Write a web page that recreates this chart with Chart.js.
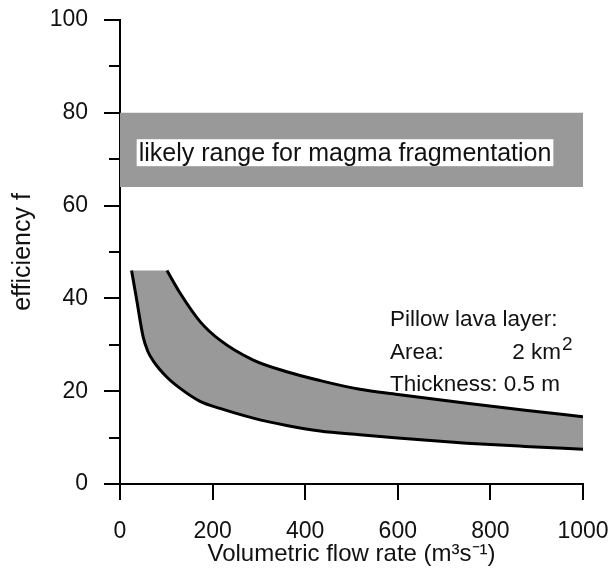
<!DOCTYPE html>
<html>
<head>
<meta charset="utf-8">
<script src="https://cdn.jsdelivr.net/npm/chart.js@4/dist/chart.umd.min.js"></script>
<style>
  html, body { margin: 0; padding: 0; background: #fff; }
  #wrap { width: 613px; height: 570px; position: relative; }
</style>
</head>
<body>
<div id="wrap"><canvas id="c"></canvas></div>
<script>
// ---- data ----
const xTickValues = [0, 200, 400, 600, 800, 1000];
const yTickValues = [0, 20, 40, 60, 80, 100];

// likely range for magma fragmentation (efficiency band)
const bandQ = [0, 1000];
const bandTop = [80, 80];
const bandBottom = 64;

// lower curve of the efficiency envelope
const lowerQ = [25, 36, 50, 60, 72, 101.5, 130, 173, 216, 288, 360, 432, 518, 600, 749, 875, 1000];
const lowerF = [46, 39.7, 31.7, 28.6, 26.5, 23.0, 20.6, 17.8, 16.3, 14.2, 12.6, 11.4, 10.6, 9.9, 8.8, 8.1, 7.5];

// flat top of the envelope (no outline)
const topQ = [25, 101.5];
const topF = [46, 46];

// upper curve of the efficiency envelope
const upperQ = [101.5, 130, 173, 216, 288, 360, 432, 518, 600, 749, 875, 1000];
const upperF = [46, 41.1, 35.0, 31.0, 26.7, 24.2, 22.3, 20.4, 19.3, 17.4, 15.9, 14.5];

const bandLabel = 'likely range for magma fragmentation';
const noteLines = ['Pillow lava layer:', 'Area:', 'Thickness: 0.5 m'];
const areaValue = '2 km';
const areaSup = '2';

const xTitle = 'Volumetric flow rate (m\u00B3s\u207B\u00B9)';
const yTitle = 'efficiency f';

// ---- build ----
const pts = (xs, ys) => xs.map((x, i) => ({x: x, y: ys[i]}));
const FONT = '"Liberation Sans", Arial, sans-serif';
const GRAY = '#999999';

const tickPlugin = {
  id: 'customTicks',
  afterDraw(chart) {
    const ctx = chart.ctx;
    const xs = chart.scales.x, ys = chart.scales.y;
    ctx.save();
    ctx.strokeStyle = '#000';
    ctx.lineWidth = 2;
    ctx.lineCap = 'butt';
    xs.ticks.forEach(t => {
      const px = Math.round(xs.getPixelForValue(t.value));
      const len = xTickValues.includes(t.value) ? 16 : 11;
      ctx.beginPath();
      ctx.moveTo(px, xs.top);
      ctx.lineTo(px, xs.top + len);
      ctx.stroke();
    });
    ys.ticks.forEach(t => {
      const py = Math.round(ys.getPixelForValue(t.value));
      const len = yTickValues.includes(t.value) ? 16 : 11;
      ctx.beginPath();
      ctx.moveTo(ys.right, py);
      ctx.lineTo(ys.right - len, py);
      ctx.stroke();
    });
    ctx.restore();
  }
};

const textPlugin = {
  id: 'notes',
  afterDatasetsDraw(chart) {
    const ctx = chart.ctx;
    const xs = chart.scales.x, ys = chart.scales.y;
    ctx.save();
    // band label in white box
    ctx.font = '25px ' + FONT;
    const w = ctx.measureText(bandLabel).width;
    const cx = xs.getPixelForValue(486);
    const cy = ys.getPixelForValue(71.4);
    ctx.fillStyle = '#fff';
    ctx.fillRect(cx - w / 2 - 2, cy - 13.5, w + 4, 27);
    ctx.fillStyle = '#111';
    ctx.textAlign = 'center';
    ctx.textBaseline = 'middle';
    ctx.fillText(bandLabel, cx, cy + 1);

    // pillow lava notes
    ctx.font = '22.5px ' + FONT;
    ctx.textAlign = 'left';
    ctx.textBaseline = 'alphabetic';
    const lx = xs.getPixelForValue(583);
    ctx.fillText(noteLines[0], lx, ys.getPixelForValue(34.05));
    ctx.fillText(noteLines[1], lx, ys.getPixelForValue(26.9));
    ctx.fillText(noteLines[2], lx, ys.getPixelForValue(20.0));
    const ax = xs.getPixelForValue(847);
    ctx.fillText(areaValue, ax, ys.getPixelForValue(26.9));
    const aw = ctx.measureText(areaValue).width;
    ctx.font = '19px ' + FONT;
    ctx.fillText(areaSup, ax + aw + 1, ys.getPixelForValue(26.9) - 9);
    ctx.restore();
  }
};

const zeroPad = s => { s.paddingLeft = 0; s.paddingRight = 0; s.paddingTop = 0; s.paddingBottom = 0; };

new Chart(document.getElementById('c'), {
  type: 'scatter',
  data: {
    datasets: [
      { // upper curve
        data: pts(upperQ, upperF), showLine: true, order: 0,
        borderColor: '#000', borderWidth: 3, pointRadius: 0,
        cubicInterpolationMode: 'monotone',
        backgroundColor: GRAY, fill: 2
      },
      { // flat top
        data: pts(topQ, topF), showLine: true, order: 2,
        borderWidth: 0, borderColor: 'rgba(0,0,0,0)', pointRadius: 0,
        backgroundColor: GRAY, fill: 2
      },
      { // lower curve
        data: pts(lowerQ, lowerF), showLine: true, order: 1,
        borderColor: '#000', borderWidth: 3, pointRadius: 0,
        cubicInterpolationMode: 'monotone', fill: false
      },
      { // band
        data: pts(bandQ, bandTop), showLine: true, order: 3,
        borderWidth: 0, borderColor: 'rgba(0,0,0,0)', pointRadius: 0,
        backgroundColor: GRAY, fill: {value: bandBottom}
      }
    ]
  },
  options: {
    responsive: true,
    maintainAspectRatio: false,
    animation: false,
    devicePixelRatio: 1,
    layout: { padding: { left: 0, top: 20, right: 30, bottom: 0 } },
    plugins: {
      legend: { display: false },
      tooltip: { enabled: false },
      filler: { drawTime: 'beforeDatasetsDraw', propagate: false }
    },
    scales: {
      x: {
        type: 'linear', min: 0, max: 1000,
        afterFit: s => { s.height = 86; zeroPad(s); },
        grid: { display: false, drawTicks: false },
        border: { display: true, color: '#000', width: 2 },
        ticks: {
          stepSize: 100, padding: 34, color: '#111', maxRotation: 0,
          font: { family: FONT, size: 23 },
          callback: v => xTickValues.includes(v) ? String(v) : ''
        },
        title: {
          display: true, text: xTitle, color: '#111',
          font: { family: FONT, size: 24 }, padding: { top: 0, bottom: 1 }
        }
      },
      y: {
        type: 'linear', min: 0, max: 100,
        afterFit: s => { s.width = 120; zeroPad(s); },
        grid: { display: false, drawTicks: false },
        border: { display: true, color: '#000', width: 2 },
        ticks: {
          stepSize: 10, padding: 32, color: '#111',
          font: { family: FONT, size: 23 },
          callback: v => yTickValues.includes(v) ? String(v) : ''
        },
        title: {
          display: true, text: yTitle, color: '#111',
          font: { family: FONT, size: 25 }, padding: { top: 8, bottom: 8 }
        }
      }
    }
  },
  plugins: [tickPlugin, textPlugin]
});
</script>
</body>
</html>
